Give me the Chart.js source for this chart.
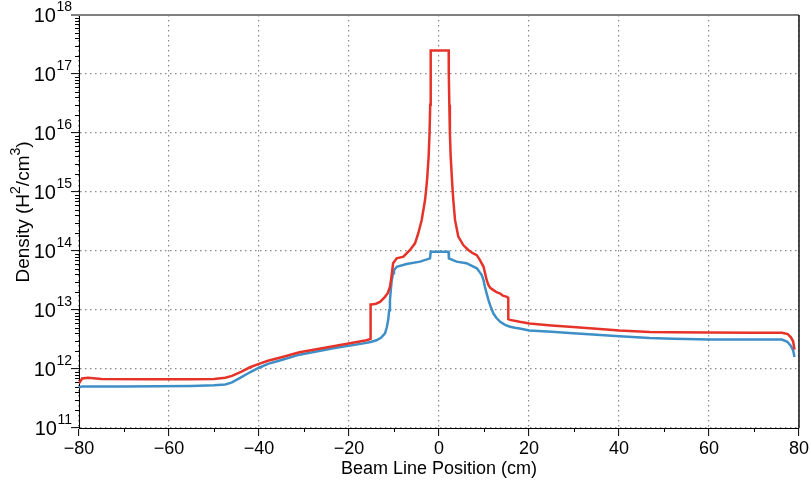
<!DOCTYPE html>
<html>
<head>
<meta charset="utf-8">
<script src="https://cdn.jsdelivr.net/npm/chart.js@4.4.1/dist/chart.umd.min.js"></script>
<style>
html,body{margin:0;padding:0;background:#fff}
</style>
</head>
<body>
<canvas id="chart" width="811" height="488"></canvas>
<script>
// beam line position (cm) and density (H2/cm3)
const redX = [-80, -79.3, -78, -75, -65, -55, -50, -47.5, -46, -44, -42, -40, -38, -35, -31, -23.5, -16.1, -15.2,
  -15.2, -15, -14, -13.1, -12, -11.4, -10.9, -10.6, -10.2, -9.4, -7.9, -7.2, -6.44, -5.33, -4.6, -3.84, -3.1, -2.85, -2.6, -2.3, -2.1, -1.95, -1.84, -1.84,
  2.16, 2.16, 2.2, 2.3, 2.42, 2.6, 2.85, 3.02, 3.18, 3.56, 4.29, 5.4, 6.5, 7.6, 8.4, 9.1, 9.9, 10.6, 11, 11.44, 12.1, 12.8, 13.6, 14.2, 15.1, 15.4,
  15.4, 15.8, 17.9, 20.1, 25, 29, 35, 40.1, 46.8, 52, 60, 70, 76.2, 77.5, 78.2, 78.7, 79]
const redY = [5.7e11, 6.9e11, 7.1e11, 6.8e11, 6.7e11, 6.7e11, 6.8e11, 7.1e11, 7.65e11, 8.95e11, 1.07e12, 1.22e12, 1.38e12, 1.58e12, 1.92e12, 2.43e12, 3.07e12, 3.23e12,
  1.24e13, 1.24e13, 1.28e13, 1.37e13, 1.67e13, 1.93e13, 2.47e13, 3.47e13, 6.2e13, 7.5e13, 8.0e13, 9.1e13, 1.04e14, 1.35e14, 2.0e14, 3.36e14, 7.3e14, 1.1e15, 1.8e15, 4e15, 1e16, 3e16, 1e17, 2.5e17,
  2.5e17, 1e17, 1e17, 3e16, 1e16, 4e15, 1.8e15, 1.1e15, 7.3e14, 3.36e14, 1.75e14, 1.26e14, 1.04e14, 9.1e13, 8.5e13, 7.0e13, 5.4e13, 3.2e13, 2.64e13, 2.35e13, 2.17e13, 2.0e13, 1.9e13, 1.75e13, 1.67e13, 1.6e13,
  7.0e12, 6.8e12, 6.3e12, 5.9e12, 5.47e12, 5.2e12, 4.81e12, 4.5e12, 4.25e12, 4.2e12, 4.15e12, 4.12e12, 4.1e12, 3.9e12, 3.45e12, 2.95e12, 2.13e12]

const blueX = [-80, -79.3, -70, -55, -50, -47.5, -46, -44, -42, -40, -38, -35, -31, -23.5, -16.1, -15.2, -13.9, -12.9, -12, -11.6, -11.3, -11.07, -10.9, -10.67, -10.5, -10.2, -10.0, -9.4, -7.2, -4.2, -2.0, -1.84,
  2.12, 2.2, 3.9, 6.1, 8.4, 8.89, 9.5, 9.89, 10.2, 10.6, 11, 11.44, 12.1, 12.78, 13.6, 14.67, 15.8, 16.89, 17.9, 20.1, 25, 29, 35, 40.1, 46.8, 52, 60, 76.2, 77.4, 78.2, 78.7, 79]
const blueY = [4.88e11, 5.07e11, 5.07e11, 5.17e11, 5.28e11, 5.48e11, 5.93e11, 7.2e11, 8.8e11, 1.05e12, 1.22e12, 1.42e12, 1.75e12, 2.25e12, 2.77e12, 2.87e12, 3.07e12, 3.38e12, 4.0e12, 5.1e12, 6.7e12, 9.9e12, 1.47e13, 2.35e13, 3.2e13, 4.2e13, 4.7e13, 5.4e13, 6.0e13, 6.6e13, 7.5e13, 9.7e13,
  9.7e13, 7.5e13, 6.6e13, 6.2e13, 5.1e13, 4.56e13, 3.9e13, 3.2e13, 2.47e13, 1.89e13, 1.47e13, 1.16e13, 8.7e12, 7.3e12, 6.3e12, 5.6e12, 5.2e12, 4.99e12, 4.85e12, 4.5e12, 4.28e12, 4.08e12, 3.8e12, 3.6e12, 3.36e12, 3.25e12, 3.15e12, 3.15e12, 2.9e12, 2.47e12, 2.07e12, 1.6e12]

const decades = [11, 12, 13, 14, 15, 16, 17, 18]
const minorX = [-70, -50, -30, -10, 10, 30, 50, 70]

const FONT = '"Liberation Sans", Arial, Helvetica, sans-serif'

function toPoints(xs, ys) {
    return xs.map((x, i) => ({x: x, y: ys[i]}))
}

const axisDecor = {
    id: 'axisDecor',
    afterDraw(chart) {
        const ctx = chart.ctx
        const a = chart.chartArea
        const xs = chart.scales.x
        const ys = chart.scales.y
        ctx.save()
        // minor ticks, outside
        ctx.strokeStyle = '#000'
        ctx.lineWidth = 1
        ctx.beginPath()
        minorX.forEach(v => {
            const p = Math.round(xs.getPixelForValue(v)) + 0.5
            ctx.moveTo(p, a.bottom)
            ctx.lineTo(p, a.bottom + 4)
        })
        for (let n = 11; n < 18; n++) {
            for (let k = 2; k < 10; k++) {
                const p = Math.round(ys.getPixelForValue(k * 10 ** n)) + 0.5
                ctx.moveTo(a.left, p)
                ctx.lineTo(a.left - 4, p)
            }
        }
        ctx.stroke()
        // frame top and right
        ctx.strokeStyle = '#808080'
        ctx.lineWidth = 2
        ctx.beginPath()
        ctx.moveTo(a.left - 8, a.top)
        ctx.lineTo(a.right, a.top)
        ctx.stroke()
        ctx.strokeStyle = '#111'
        ctx.lineWidth = 1.5
        ctx.beginPath()
        ctx.moveTo(a.right, a.top)
        ctx.lineTo(a.right, a.bottom)
        ctx.stroke()
        // y tick labels 10^n
        ctx.fillStyle = '#000'
        ctx.textAlign = 'right'
        ctx.textBaseline = 'alphabetic'
        const right = a.left - 7
        decades.forEach(n => {
            const p = ys.getPixelForValue(10 ** n)
            ctx.font = '14px ' + FONT
            const ew = ctx.measureText(String(n)).width
            ctx.fillText(String(n), right, p - 4)
            ctx.font = '20px ' + FONT
            ctx.fillText('10', right - ew - 0.5, p + 7)
        })
        // y title with superscripts
        const parts = [['Density (H', 0], ['2', 1], ['/cm', 0], ['3', 1], [')', 0]]
        let total = 0
        parts.forEach(pt => {
            ctx.font = (pt[1] ? '14px ' : '19px ') + FONT
            total += ctx.measureText(pt[0]).width
        })
        ctx.translate(22, 212)
        ctx.rotate(-Math.PI / 2)
        ctx.textAlign = 'left'
        let x = -total / 2
        parts.forEach(pt => {
            ctx.font = (pt[1] ? '14px ' : '19px ') + FONT
            ctx.fillText(pt[0], x, pt[1] ? -2 : 7)
            x += ctx.measureText(pt[0]).width
        })
        ctx.restore()
    }
}

const chart = new Chart(document.querySelector('#chart'), {
    type: 'line',
    data: {
        datasets: [
            {data: toPoints(redX, redY), borderColor: '#e6332a', borderWidth: 2.5, order: 1},
            {data: toPoints(blueX, blueY), borderColor: '#3f8fc7', borderWidth: 2.5, order: 2}
        ]
    },
    options: {
        responsive: false,
        animation: false,
        layout: {padding: {top: 15, right: 12, bottom: 0, left: 0}},
        elements: {point: {radius: 0}, line: {tension: 0}},
        plugins: {legend: {display: false}, tooltip: {enabled: false}},
        scales: {
            x: {
                type: 'linear', min: -80, max: 80,
                ticks: {
                    stepSize: 20, color: '#000', padding: 2, maxRotation: 0,
                    font: {family: FONT, size: 18},
                    callback: v => String(v).replace('-', '\u2212')
                },
                grid: {color: '#8a8a8a', lineWidth: 1.2, tickLength: 8, tickColor: '#000', tickWidth: 1},
                border: {display: true, color: '#000', width: 1, dash: [1.5, 3.5]},
                title: {display: true, text: 'Beam Line Position (cm)', color: '#000', font: {family: FONT, size: 18}, padding: {top: 0, bottom: 8}},
                afterFit: s => { s.height = 60 }
            },
            y: {
                type: 'logarithmic', min: 1e11, max: 1e18,
                afterBuildTicks: s => { s.ticks = decades.map(n => ({value: 10 ** n})) },
                ticks: {display: false},
                grid: {color: '#8a8a8a', lineWidth: 1.2, tickLength: 8, tickColor: '#000', tickWidth: 1},
                border: {display: true, color: '#000', width: 1, dash: [1.5, 3.5]},
                afterFit: s => { s.width = 79 }
            }
        }
    },
    plugins: [axisDecor]
})
</script>
</body>
</html>
